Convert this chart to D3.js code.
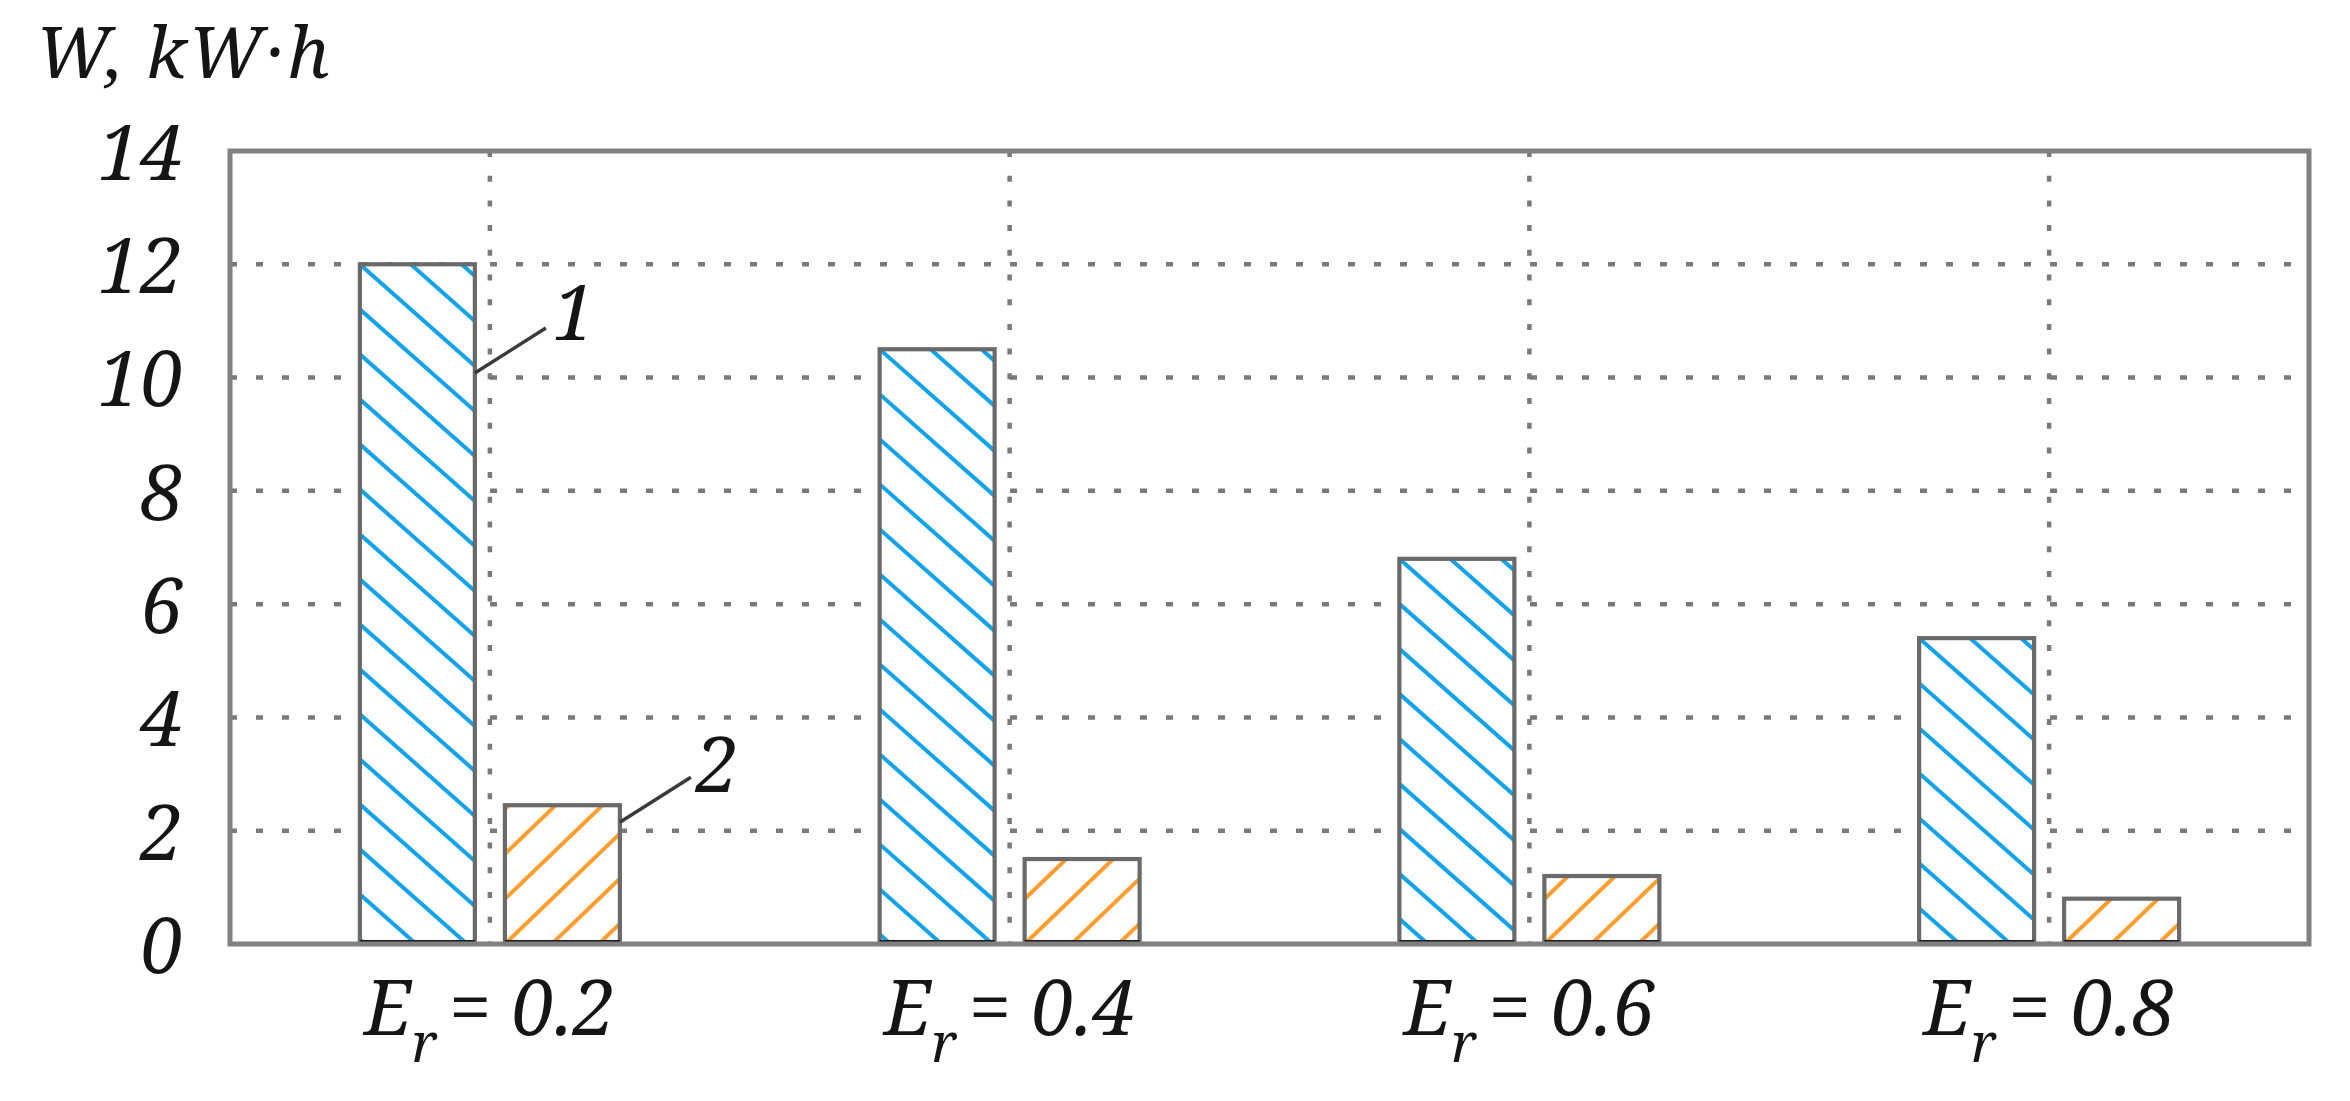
<!DOCTYPE html>
<html>
<head>
<meta charset="utf-8">
<script src="https://cdn.jsdelivr.net/npm/d3@7"></script>
<style>
  html, body { margin: 0; padding: 0; background: #fff; }
  svg { display: block; }
</style>
</head>
<body>
<svg id="chart" width="2350" height="1101"></svg>
<script>
// ---- data ----
const categories = ["0.2", "0.4", "0.6", "0.8"];
const series = ["1", "2"];
const series1Values = [12.0, 10.5, 6.8, 5.4];
const series2Values = [2.45, 1.5, 1.2, 0.8];
const yTicks = [0, 2, 4, 6, 8, 10, 12, 14];
const yTitle = "W, kW·h";
const xLabelMain = "E";
const xLabelSub = "r";

const seriesColors = { "1": "#12a3ea", "2": "#ff9d2e" };
const FONT = "'Noto Serif', 'Liberation Serif', serif";

const svg = d3.select("#chart");
const plot = { left: 230, right: 2309, top: 151, bottom: 944 };

const x = d3.scaleBand().domain(categories).range([plot.left, plot.right]).paddingInner(0).paddingOuter(0);
const xs = d3.scaleBand().domain(series).range([-130, 130]).paddingInner(0.207).paddingOuter(0);
const y = d3.scaleLinear().domain([0, 14]).range([plot.bottom, plot.top]);

const gridColor = "#7a7a7a";

// horizontal gridlines
svg.append("g").selectAll("line").data(yTicks.filter(t => t > 0 && t < 14)).join("line")
  .attr("x1", plot.left).attr("x2", plot.right)
  .attr("y1", d => y(d)).attr("y2", d => y(d))
  .attr("stroke", gridColor).attr("stroke-width", 4.5)
  .attr("stroke-dasharray", "7,19");

// vertical gridlines at category centers
svg.append("g").selectAll("line").data(categories).join("line")
  .attr("x1", d => x(d) + x.bandwidth() / 2).attr("x2", d => x(d) + x.bandwidth() / 2)
  .attr("y1", plot.top).attr("y2", plot.bottom)
  .attr("stroke", gridColor).attr("stroke-width", 4.5)
  .attr("stroke-dasharray", "6,18.7");

// bars
const rows = [];
categories.forEach((c, i) => {
  rows.push({ cat: c, s: "1", v: series1Values[i], i });
  rows.push({ cat: c, s: "2", v: series2Values[i], i });
});

const defs = svg.append("defs");
const barsG = svg.append("g");

rows.forEach((r, k) => {
  const cx = x(r.cat) + x.bandwidth() / 2;
  const x0 = cx + xs(r.s);
  const w = xs.bandwidth();
  const y0 = y(r.v);
  const yb = y(0);
  const h = yb - y0;
  const id = "clip" + k;
  defs.append("clipPath").attr("id", id)
    .append("rect").attr("x", x0).attr("y", y0).attr("width", w).attr("height", h);

  const g = barsG.append("g");
  g.append("rect").attr("x", x0).attr("y", y0).attr("width", w).attr("height", h)
    .attr("fill", "#fff");

  const hg = g.append("g").attr("clip-path", `url(#${id})`);
  const step = 45;
  const lines = [];
  if (r.s === "1") {
    const slope = 0.884;
    for (let j = -Math.ceil(w * slope / step) - 1; j * step < h + step; j++) {
      const ya = y0 + j * step;
      lines.push([x0, ya, x0 + w, ya + slope * w]);
    }
  } else {
    const slope = 0.96;
    for (let j = -Math.ceil(w * slope / step) - 1; j * step < h + step; j++) {
      const ya = yb - j * step;
      lines.push([x0, ya, x0 + w, ya - slope * w]);
    }
  }
  hg.selectAll("line").data(lines).join("line")
    .attr("x1", d => d[0]).attr("y1", d => d[1]).attr("x2", d => d[2]).attr("y2", d => d[3])
    .attr("stroke", seriesColors[r.s]).attr("stroke-width", 4);

  g.append("rect").attr("x", x0).attr("y", y0).attr("width", w).attr("height", h)
    .attr("fill", "none").attr("stroke", "#6a6a6a").attr("stroke-width", 4.2);
  g.append("line").attr("x1", x0).attr("x2", x0 + w).attr("y1", yb - 1.5).attr("y2", yb - 1.5)
    .attr("stroke", "#1a1a1a").attr("stroke-width", 5);
});

// frame
svg.append("rect")
  .attr("x", plot.left).attr("y", plot.top)
  .attr("width", plot.right - plot.left).attr("height", plot.bottom - plot.top)
  .attr("fill", "none").attr("stroke", "#808080").attr("stroke-width", 5);

// y tick labels
svg.append("g").selectAll("text").data(yTicks).join("text")
  .attr("font-family", FONT).attr("font-style", "italic").attr("fill", "#151515")
  .attr("x", 183).attr("y", d => y(d)).attr("dy", "0.38em")
  .attr("text-anchor", "end").attr("font-size", 76)
  .text(d => d);

// y title
svg.append("text").attr("font-family", FONT).attr("font-style", "italic").attr("fill", "#151515")
  .attr("x", 36).attr("y", 78).attr("font-size", 71).attr("letter-spacing", 2).text(yTitle);

// x labels
const xl = svg.append("g").selectAll("text").data(categories).join("text")
  .attr("font-family", FONT).attr("font-style", "italic").attr("fill", "#151515")
  .attr("x", d => x(d) + x.bandwidth() / 2).attr("y", 1035)
  .attr("text-anchor", "middle").attr("font-size", 76);
xl.append("tspan").text(xLabelMain);
xl.append("tspan").attr("dy", 27).attr("font-size", 54).text(xLabelSub);
xl.append("tspan").attr("dy", -27).attr("dx", 12).text("=");
xl.append("tspan").attr("dx", 20).text(d => d);

// annotations
const c0 = x(categories[0]) + x.bandwidth() / 2;
const b1right = c0 + xs("1") + xs.bandwidth();
const b2right = c0 + xs("2") + xs.bandwidth();
const ann = svg.append("g");
ann.append("line")
  .attr("x1", b1right).attr("y1", y(10.08))
  .attr("x2", b1right + 71).attr("y2", y(10.08) - 45)
  .attr("stroke", "#3a3a3a").attr("stroke-width", 3.5);
ann.append("text").attr("font-family", FONT).attr("font-style", "italic").attr("fill", "#151515")
  .attr("x", b1right + 78).attr("y", 340).attr("font-size", 76).text(series[0]);

ann.append("line")
  .attr("x1", b2right).attr("y1", y(series2Values[0]) + 17)
  .attr("x2", b2right + 71).attr("y2", y(series2Values[0]) - 28)
  .attr("stroke", "#3a3a3a").attr("stroke-width", 3.5);
ann.append("text").attr("font-family", FONT).attr("font-style", "italic").attr("fill", "#151515")
  .attr("x", b2right + 76).attr("y", 792).attr("font-size", 76).text(series[1]);
</script>
</body>
</html>
